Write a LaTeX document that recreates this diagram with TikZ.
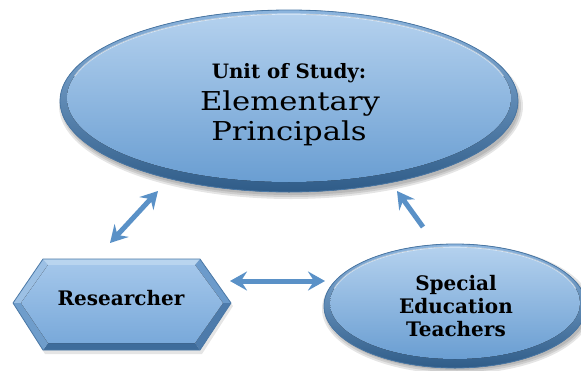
\documentclass[tikz,border=0pt]{standalone}
\usepackage{fontspec}
\setmainfont{DejaVu Serif}
\newfontfamily\widefont[FakeStretch=1.18]{DejaVu Serif}
\usetikzlibrary{arrows.meta,calc,shapes.geometric}
\definecolor{rimtop}{HTML}{8DB5DE}
\definecolor{rimbot}{HTML}{2F5C88}
\definecolor{rimline}{HTML}{4A78A6}
\definecolor{facetop}{HTML}{B4D1EE}
\definecolor{facebot}{HTML}{6A9ED2}
\definecolor{arrblue}{HTML}{5A91C7}
\definecolor{hxtop}{HTML}{B9D5EF}
\definecolor{hxlt}{HTML}{9CC0E4}
\definecolor{hxlb}{HTML}{6F9DCB}
\definecolor{hxrt}{HTML}{6C9BCB}
\definecolor{hxrb}{HTML}{4D7BAB}
\definecolor{hxbot}{HTML}{3E6C9B}
\tikzset{
  rimfill/.style={top color=rimtop, bottom color=rimbot},
  facefill/.style={top color=facetop, bottom color=facebot},
  hexface/.style={top color=HexA, bottom color=HexB},
  softshadow/.style={fill=black, opacity=0.10},
  arr/.style={draw=arrblue, line width=5pt,
    arrows={-Stealth[length=17pt,width=19pt,inset=6pt]}},
  arrboth/.style={arr, arrows={Stealth[length=17pt,width=19pt,inset=6pt]-Stealth[length=17pt,width=19pt,inset=6pt]}},
  lbl/.style={text=black, inner sep=0pt, anchor=base},
}
\definecolor{HexA}{HTML}{A3C6EA}
\definecolor{HexB}{HTML}{79A9DA}
\begin{document}
\begin{tikzpicture}[x=1pt,y=-1pt]
\useasboundingbox (0,0) rectangle (581,370);
\clip (0,0) rectangle (581,370);
\fill[white] (0,0) rectangle (581,370);

% ---------- top ellipse ----------
\foreach \d in {0,2,4} {
  \fill[softshadow] (291,106) ellipse [x radius=228+\d, y radius=89+\d];
}
\fill[rimfill] (289,101) ellipse [x radius=229, y radius=91];
\fill[facefill] (289,98) ellipse [x radius=222, y radius=84];
\draw[white, opacity=0.55, line width=1.2pt] (289,98) ++(195:222 and 84) arc [start angle=195, end angle=345, x radius=222, y radius=84];
\node[ellipse, draw=rimline, line width=0.8pt, minimum width=458pt, minimum height=182pt, inner sep=0pt] (unit) at (289,101) {};
\node[lbl, font=\fontsize{19.8}{20}\selectfont\bfseries] (unitA) at (289,78) {Unit of Study:};
\node[lbl, font=\fontsize{26}{26}\selectfont\widefont] (unitB) at (290,110) {Elementary};
\node[lbl, font=\fontsize{26}{26}\selectfont\widefont] (unitC) at (289,140) {Principals};

% ---------- hexagon ----------
\fill[softshadow] (15,306) -- (45,262) -- (202,262) -- (233,306) -- (202,354) -- (45,354) -- cycle;
\fill[hxtop] (43,259) -- (200,259) -- (195,265) -- (48,265) -- cycle;
\fill[hxlt] (13,303) -- (43,259) -- (48,265) -- (21,303) -- cycle;
\fill[hxrt] (200,259) -- (231,303) -- (223,303) -- (195,265) -- cycle;
\fill[hxrb] (231,303) -- (200,350) -- (195,343) -- (223,303) -- cycle;
\fill[hxbot] (200,350) -- (43,350) -- (48,343) -- (195,343) -- cycle;
\fill[hxlb] (13,303) -- (43,350) -- (48,343) -- (21,303) -- cycle;
\fill[hexface] (21,303) -- (48,265) -- (195,265) -- (223,303) -- (195,343) -- (48,343) -- cycle;
\draw[rimline, line width=0.8pt, line join=round] (13,303) -- (43,259) -- (200,259) -- (231,303) -- (200,350) -- (43,350) -- cycle;
\node[lbl, font=\fontsize{20}{20}\selectfont\bfseries] (res) at (121,305) {Researcher};

% ---------- bottom-right ellipse ----------
\foreach \d in {0,2,4} {
  \fill[softshadow] (457,309) ellipse [x radius=131+\d, y radius=61+\d];
}
\fill[rimfill] (455,306) ellipse [x radius=131, y radius=62];
\fill[facefill] (455,303) ellipse [x radius=125, y radius=56];
\draw[white, opacity=0.55, line width=1.1pt] (455,303) ++(195:125 and 56) arc [start angle=195, end angle=345, x radius=125, y radius=56];
\node[ellipse, draw=rimline, line width=0.8pt, minimum width=262pt, minimum height=124pt, inner sep=0pt] (set) at (455,306) {};
\node[lbl, font=\fontsize{20}{20}\selectfont\bfseries] (setA) at (456,290) {Special};
\node[lbl, font=\fontsize{20}{20}\selectfont\bfseries] (setB) at (456,313) {Education};
\node[lbl, font=\fontsize{20}{20}\selectfont\bfseries] (setC) at (456,336) {Teachers};

% ---------- arrows ----------
\coordinate (a1s) at (110,243);
\coordinate (a1e) at (158,191);
\coordinate (a2s) at (423,227);
\coordinate (a2e) at (397,191);
\coordinate (a3s) at (230,281);
\coordinate (a3e) at (325,281);
\draw[arrboth] (a1s) -- (a1e);
\draw[arr] (a2s) -- (a2e);
\draw[arrboth] (a3s) -- (a3e);
\end{tikzpicture}
\end{document}
